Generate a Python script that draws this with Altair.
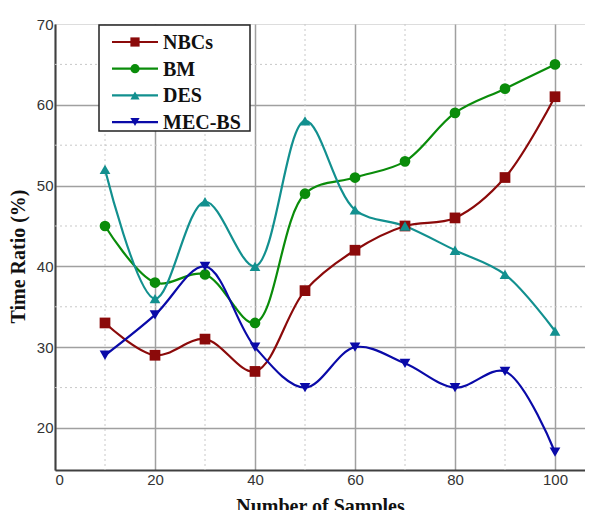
import altair as alt
import pandas as pd

samples = [10, 20, 30, 40, 50, 60, 70, 80, 90, 100]
nbcs = [33, 29, 31, 27, 37, 42, 45, 46, 51, 61]
bm = [45, 38, 39, 33, 49, 51, 53, 59, 62, 65]
des = [52, 36, 48, 40, 58, 47, 45, 42, 39, 32]
mec_bs = [29, 34, 40, 30, 25, 30, 28, 25, 27, 17]

series_names = ["NBCs", "BM", "DES", "MEC-BS"]
series_colors = ["#8B0A0A", "#0A8C0A", "#12908F", "#0A0AA8"]
series_shapes = ["square", "circle", "triangle-up", "triangle-down"]

x_major = [20, 40, 60, 80, 100]
x_minor = [10, 30, 50, 70, 90]
y_major = [20, 30, 40, 50, 60, 70]
y_minor = [25, 35, 45, 55, 65]

rows = []
for name, vals in zip(series_names, [nbcs, bm, des, mec_bs]):
    for s, v in zip(samples, vals):
        rows.append({"Samples": s, "Value": v, "Series": name})
df = pd.DataFrame(rows)

W, H = 530, 446
xdom = [0, 106]
ydom = [14.8, 70]
px_per_unit = H / (ydom[1] - ydom[0])

xscale = alt.Scale(domain=xdom, nice=False, zero=False)
yscale = alt.Scale(domain=ydom, nice=False, zero=False)
color_scale = alt.Scale(domain=series_names, range=series_colors)
shape_scale = alt.Scale(domain=series_names, range=series_shapes)

x_axis = alt.Axis(
    title="Number of Samples",
    values=[0] + x_major,
    grid=True,
    gridColor="#a0a0a0",
    gridWidth=1.5,
    tickSize=0,
    labelPadding=2,
    labelFont="Liberation Sans",
    labelFontSize=15,
    labelColor="#333333",
    domainColor="#404040",
    domainWidth=2,
    titleFont="Liberation Serif",
    titleFontSize=20,
    titleFontWeight="bold",
    titleColor="#111111",
    titlePadding=9,
)
y_axis = alt.Axis(
    title="Time Ratio (%)",
    values=y_major,
    grid=True,
    gridColor="#a0a0a0",
    gridWidth=1.5,
    gridOpacity={"condition": {"test": "datum.value == 70", "value": 0}, "value": 1},
    tickSize=0,
    labelPadding=2,
    labelFont="Liberation Sans",
    labelFontSize=15,
    labelColor="#333333",
    domainColor="#404040",
    domainWidth=2,
    titleFont="Liberation Serif",
    titleFontSize=20,
    titleFontWeight="bold",
    titleColor="#111111",
    titlePadding=8,
    titleY=232,
)

minor_x = alt.Chart(pd.DataFrame({"v": x_minor})).mark_rule(
    color="#c8c8c8", strokeDash=[2, 3], strokeWidth=1
).encode(x=alt.X("v:Q", scale=xscale, axis=x_axis), y=alt.value(0), y2=alt.value(H))

minor_y = alt.Chart(pd.DataFrame({"v": y_minor})).mark_rule(
    color="#c8c8c8", strokeDash=[2, 3], strokeWidth=1
).encode(y=alt.Y("v:Q", scale=yscale, axis=y_axis), x=alt.value(0), x2=alt.value(W))

base = alt.Chart(df).encode(
    x=alt.X("Samples:Q", scale=xscale, axis=x_axis),
    y=alt.Y("Value:Q", scale=yscale, axis=y_axis),
    color=alt.Color("Series:N", scale=color_scale, legend=None),
)

lines = base.mark_line(interpolate="catmull-rom", strokeWidth=2.2)
points = base.mark_point(filled=True, size=115, opacity=1).encode(
    shape=alt.Shape("Series:N", scale=shape_scale, legend=None)
)

# manual legend (positions converted from pixel offsets into the shared y scale)
leg_df = pd.DataFrame({"Series": series_names, "idx": list(range(len(series_names)))})
row_h = 26.7
top0 = 18
box = alt.Chart(pd.DataFrame({"a": [0]})).mark_rect(
    fill="white", stroke="#222222", strokeWidth=1.5
).encode(x=alt.value(44), x2=alt.value(195), y=alt.value(1), y2=alt.value(107))

ypos = alt.Y("ly:Q", scale=yscale, axis=y_axis)
leg_base = alt.Chart(leg_df).transform_calculate(
    ly=f"{ydom[1]} - ({top0} + datum.idx * {row_h}) / {px_per_unit}"
)
leg_lines = leg_base.mark_rule(strokeWidth=2.2).encode(
    x=alt.value(57), x2=alt.value(103), y=ypos,
    color=alt.Color("Series:N", scale=color_scale, legend=None),
)
leg_pts = leg_base.mark_point(filled=True, size=85, opacity=1).encode(
    x=alt.value(80), y=ypos,
    color=alt.Color("Series:N", scale=color_scale, legend=None),
    shape=alt.Shape("Series:N", scale=shape_scale, legend=None),
)
leg_text = leg_base.mark_text(
    align="left", baseline="middle", font="Liberation Serif", fontSize=20,
    fontWeight="bold", color="#111111", dy=1
).encode(x=alt.value(108), y=ypos, text="Series:N")

legend = alt.layer(box, leg_lines, leg_pts, leg_text)

chart = alt.layer(minor_x, minor_y, lines, points, legend).properties(
    width=W,
    height=H,
    autosize=alt.AutoSizeParams(type="none"),
    padding={"left": 47, "top": 16, "right": 0, "bottom": 40},
).configure_view(stroke=None).configure(background="white")

chart.save("out.html", embed_options={"renderer": "svg", "actions": False})
